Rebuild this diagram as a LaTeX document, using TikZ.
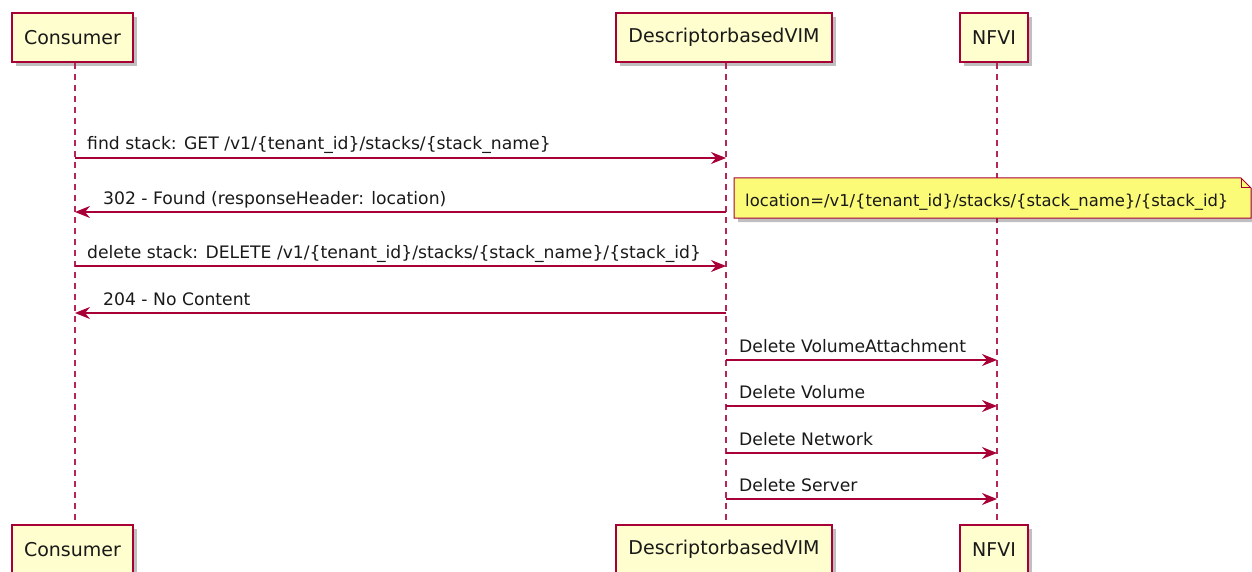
\documentclass[tikz,border=0pt]{standalone}
\usepackage{fontspec}
\setmainfont{DejaVu Sans}
\usetikzlibrary{arrows.meta,shadows}
\definecolor{pborder}{HTML}{A80036}
\definecolor{pfill}{HTML}{FEFECE}
\definecolor{nfill}{HTML}{FBFB77}
\tikzset{
  participant/.style={draw=pborder, line width=1.5pt, fill=pfill,
    drop shadow={shadow xshift=4pt, shadow yshift=-4pt, fill=black, opacity=0.25},
    minimum height=49pt, inner sep=0pt, font=\fontsize{19}{22}\selectfont, text=black!90},
  lifeline/.style={draw=pborder!85, line width=1.3pt, dash pattern=on 6pt off 5pt},
  msg/.style={draw=pborder, line width=1.2pt, -{Stealth[length=15pt,width=12pt,inset=5pt]}},
  msglabel/.style={anchor=base west, inner sep=0pt, font=\fontsize{17.2}{20}\selectfont, text=black!90},
  notelabel/.style={anchor=base west, inner sep=0pt, font=\fontsize{16.4}{20}\selectfont, text=black!90},
  notebox/.style={draw=pborder, line width=1pt, fill=nfill,
    drop shadow={shadow xshift=4pt, shadow yshift=-4pt, fill=black, opacity=0.25}},
}
\begin{document}
\begin{tikzpicture}[x=1pt,y=-1pt]
\useasboundingbox (0,0) rectangle (1252,572);
% participants
\node[participant, minimum width=121pt] (consT) at (72.5,37.5) {Consumer};
\node[participant, minimum width=216pt] (vimT) at (724,37.5) {DescriptorbasedVIM};
\node[participant, minimum width=68pt] (nfviT) at (994,37.5) {NFVI};
\node[participant, minimum width=121pt] (consB) at (72.5,549.5) {Consumer};
\node[participant, minimum width=216pt] (vimB) at (724,549.5) {DescriptorbasedVIM};
\node[participant, minimum width=68pt] (nfviB) at (994,549.5) {NFVI};
% lifeline anchors
\coordinate (cA) at (75,63);  \coordinate (cZ) at (75,524);
\coordinate (vA) at (726,63); \coordinate (vZ) at (726,524);
\coordinate (nA) at (997,63); \coordinate (nZ) at (997,524);
\draw[lifeline] (cA) -- (cZ);
\draw[lifeline] (vA) -- (vZ);
\draw[lifeline] (nA) -- (nZ);
% message points
\coordinate (c1) at (75,158);  \coordinate (v1) at (726,158);
\coordinate (c2) at (75,212);  \coordinate (v2) at (726,212);
\coordinate (c3) at (75,266);  \coordinate (v3) at (726,266);
\coordinate (c4) at (75,313);  \coordinate (v4) at (726,313);
\coordinate (v5) at (726,360); \coordinate (n5) at (997,360);
\coordinate (v6) at (726,406); \coordinate (n6) at (997,406);
\coordinate (v7) at (726,453); \coordinate (n7) at (997,453);
\coordinate (v8) at (726,499); \coordinate (n8) at (997,499);
% messages
\draw[msg] (c1) -- (v1);
\node[msglabel] (l1) at (87,150) {find stack: GET /v1/\{tenant\_id\}/stacks/\{stack\_name\}};
\draw[msg] (v2) -- (c2);
\node[msglabel] (l2) at (103,204.5) {302 - Found (responseHeader: location)};
\draw[msg] (c3) -- (v3);
\node[msglabel] (l3) at (87,258) {delete stack: DELETE /v1/\{tenant\_id\}/stacks/\{stack\_name\}/\{stack\_id\}};
\draw[msg] (v4) -- (c4);
\node[msglabel] (l4) at (103,305) {204 - No Content};
\draw[msg] (v5) -- (n5);
\node[msglabel] (l5) at (739,352.5) {Delete VolumeAttachment};
\draw[msg] (v6) -- (n6);
\node[msglabel] (l6) at (739,398.5) {Delete Volume};
\draw[msg] (v7) -- (n7);
\node[msglabel] (l7) at (739,445.5) {Delete Network};
\draw[msg] (v8) -- (n8);
\node[msglabel] (l8) at (739,491.5) {Delete Server};
% note
\path[notebox] (734,178) -- (1241,178) -- (1251,188) -- (1251,218) -- (734,218) -- cycle;
\draw[draw=pborder, line width=1pt] (1241,178) -- (1241,188) -- (1251,188);
\node[notelabel] (note) at (745,206) {location=/v1/\{tenant\_id\}/stacks/\{stack\_name\}/\{stack\_id\}};
\end{tikzpicture}
\end{document}
